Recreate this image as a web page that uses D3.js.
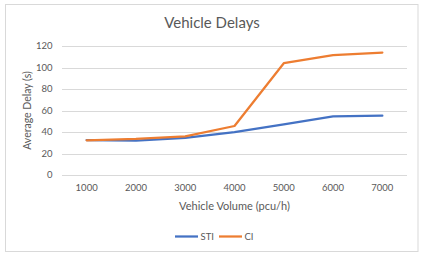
<!DOCTYPE html>
<html>
<head>
<meta charset="utf-8">
<script src="https://cdn.jsdelivr.net/npm/d3@7"></script>
<style>
  body { margin: 0; background: #fff; }
  text { font-family: Lato, "Open Sans", sans-serif; fill: #595959; }
</style>
</head>
<body>
<div id="chart"></div>
<script>
// chart data
const volumes = ["1000", "2000", "3000", "4000", "5000", "6000", "7000"];
const stiDelay = [32.5, 32, 34.5, 39.8, 47, 54.5, 55.2];
const ciDelay = [32.3, 33.5, 36, 45.6, 104, 111.5, 113.8];
const yTicks = [0, 20, 40, 60, 80, 100, 120];
const seriesNames = ["STI", "CI"];
const seriesColors = ["#4472C4", "#ED7D31"];

((() => {
  const width = 422, height = 258;
  const margin = { top: 46, right: 15, bottom: 83, left: 62 };

  const svg = d3.select("#chart")
    .append("svg")
    .attr("width", width)
    .attr("height", height);

  // outer chart border
  svg.append("rect")
    .attr("x", 5.5).attr("y", 4.5)
    .attr("width", 412.5).attr("height", 247)
    .attr("fill", "#fff")
    .attr("stroke", "#d9d9d9");

  const x = d3.scaleBand()
    .domain(volumes)
    .range([margin.left, width - margin.right]);

  const y = d3.scaleLinear()
    .domain([0, 120])
    .range([175, margin.top]);

  // gridlines
  svg.append("g")
    .selectAll("line")
    .data(yTicks)
    .join("line")
    .attr("x1", margin.left)
    .attr("x2", width - margin.right)
    .attr("y1", d => Math.round(y(d)) + 0.5)
    .attr("y2", d => Math.round(y(d)) + 0.5)
    .attr("stroke", "#d9d9d9")
    .attr("stroke-width", 1);

  // y tick labels
  svg.append("g")
    .selectAll("text")
    .data(yTicks)
    .join("text")
    .attr("x", 52.5)
    .attr("y", d => y(d))
    .attr("dy", "0.35em")
    .attr("text-anchor", "end")
    .style("font-size", "9.5px")
    .text(d => d);

  // x tick labels
  svg.append("g")
    .selectAll("text")
    .data(volumes)
    .join("text")
    .attr("x", d => x(d) + x.bandwidth() / 2)
    .attr("y", 188)
    .attr("dy", "0.35em")
    .attr("text-anchor", "middle")
    .style("font-size", "9.5px")
    .text(d => d);

  const line = d3.line()
    .x((d, i) => x(volumes[i]) + x.bandwidth() / 2)
    .y(d => y(d));

  [stiDelay, ciDelay].forEach((vals, i) => {
    svg.append("path")
      .datum(vals)
      .attr("d", line)
      .attr("fill", "none")
      .attr("stroke", seriesColors[i])
      .attr("stroke-width", 2.25)
      .attr("stroke-linejoin", "round")
      .attr("stroke-linecap", "round");
  });

  // title
  svg.append("text")
    .attr("x", 212)
    .attr("y", 23)
    .attr("dy", "0.35em")
    .attr("text-anchor", "middle")
    .style("font-size", "15px")
    .text("Vehicle Delays");

  // axis titles
  svg.append("text")
    .attr("x", (margin.left + width - margin.right) / 2)
    .attr("y", 206)
    .attr("dy", "0.35em")
    .attr("text-anchor", "middle")
    .style("font-size", "11px")
    .text("Vehicle Volume (pcu/h)");

  svg.append("text")
    .attr("transform", "translate(27," + (y(0) + y(120)) / 2 + ") rotate(-90)")
    .attr("dy", "0.35em")
    .attr("text-anchor", "middle")
    .style("font-size", "10.5px")
    .text("Average Delay (s)");

  // legend
  const legendX = [175, 219];
  seriesNames.forEach((name, i) => {
    const g = svg.append("g").attr("transform", "translate(" + legendX[i] + ",236.5)");
    g.append("line")
      .attr("x1", 0).attr("x2", 23)
      .attr("stroke", seriesColors[i])
      .attr("stroke-width", 2.25);
    g.append("text")
      .attr("x", 25.5)
      .attr("dy", "0.35em")
      .style("font-size", "9.5px")
      .text(name);
  });
})());
</script>
</body>
</html>
